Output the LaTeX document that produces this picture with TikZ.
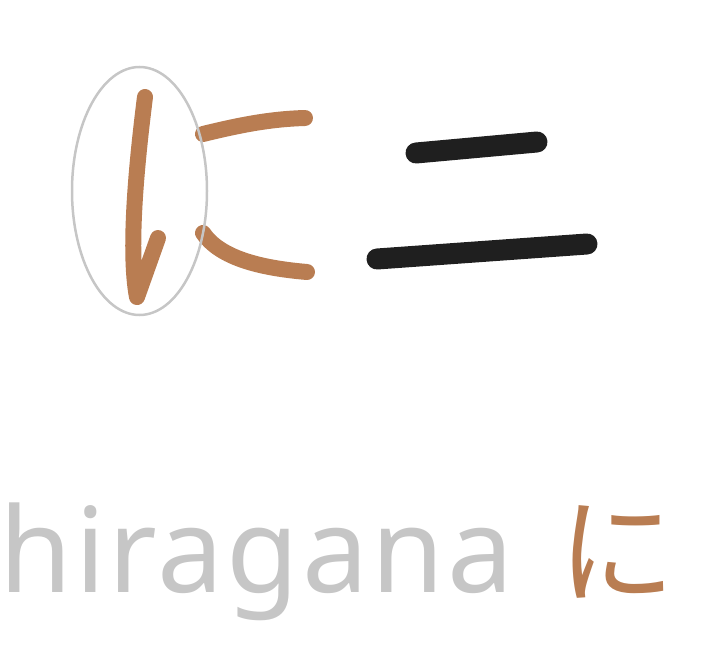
\documentclass[tikz,border=0pt]{standalone}
\usepackage{fontspec}
\setmainfont{Noto Sans}
\newfontfamily\jpfont{Noto Sans CJK JP}
\newfontfamily\capfont[LetterSpace=2.5]{Noto Sans}
\usetikzlibrary{positioning,shapes.geometric}
\definecolor{inkbrown}{RGB}{185,125,82}
\definecolor{inkblack}{RGB}{31,31,31}
\definecolor{softgray}{RGB}{198,198,198}

\begin{document}
\begin{tikzpicture}[x=1pt,y=-1pt,
  brush/.style={line width=16pt,line cap=round,line join=round,draw=inkbrown},
  thick brush/.style={line width=21pt,line cap=round,draw=inkblack},
  every node/.style={inner sep=0pt}]
  \useasboundingbox (0,0) rectangle (726,658);
  % ni: left stroke circled
  \draw[brush] (145,97) .. controls (137,160) and (128,250) .. (137,297) -- (158,238);
  \draw[brush] (203,134) .. controls (240,125) and (270,119) .. (305,118);
  \draw[brush] (203,233) .. controls (220,258) and (260,268) .. (307,272);
  \node[draw=softgray,line width=2.5pt,ellipse,minimum width=135pt,minimum height=248pt] (mark) at (139.5,191) {};
  % ni (kanji two): two lines
  \draw[thick brush] (416,153) -- (537,142);
  \draw[thick brush] (377,259) -- (587,244);
  % caption
  \node[anchor=base west,text=softgray,font=\capfont\fontsize{118}{130}\selectfont] (word) at (-1,592) {hiragana};
  \node[anchor=base west,text=inkbrown,font=\jpfont\fontsize{117}{130}\selectfont] (kana) at (558,594) {に};
\end{tikzpicture}
\end{document}
